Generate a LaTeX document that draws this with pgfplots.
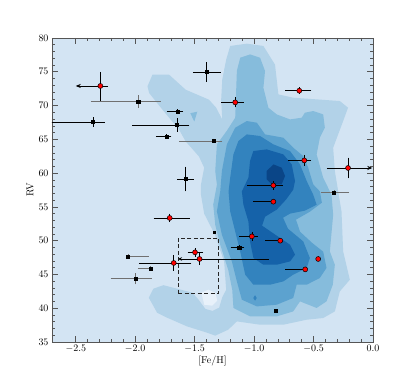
\documentclass[border=0pt]{standalone}
\usepackage{pgfplots}
\pgfplotsset{compat=1.18}
\usetikzlibrary{arrows.meta,calc}
\definecolor{bg}{HTML}{D3E4F3}
\definecolor{lvA}{HTML}{B2D2E8}
\definecolor{lvB}{HTML}{86BCDC}
\definecolor{lvC}{HTML}{5CA2CF}
\definecolor{lvD}{HTML}{3383BE}
\definecolor{lvE}{HTML}{1562A9}
\definecolor{lvF}{HTML}{0A4587}
\definecolor{hole}{HTML}{E8F1FA}
\definecolor{barg}{HTML}{707070}
\definecolor{spine}{HTML}{555555}

\begin{document}
\begin{tikzpicture}
\begin{axis}[name=ax, scale only axis, width=321bp, height=304bp,
  xmin=-2.7, xmax=0, ymin=35, ymax=80,
  axis background/.style={fill=bg},
  xtick={-2.5,-2,...,0}, minor x tick num=4,
  ytick={35,40,...,80}, minor y tick num=4,
  tick align=inside, major tick length=6bp, minor tick length=3bp,
  xticklabel style={/pgf/number format/.cd, fixed, fixed zerofill, precision=1},
  axis line style={spine, line width=0.9pt},
  tick style={spine, line width=0.6pt},
  xlabel={[Fe/H]}, ylabel={RV},
  xlabel style={yshift=4bp}, ylabel style={yshift=-2bp},
  error bars/error bar style={line width=0.6pt},
]
% density contours
\addplot[fill=lvA, draw=none] coordinates {
(-1.897,72.84) (-1.855,74.57) (-1.715,74.57) (-1.576,72.35) (-1.380,70.87) (-1.319,69.68) (-1.268,67.91) (-1.277,70.87) (-1.268,73.83) (-1.235,76.79) (-1.201,78.82) (-1.061,79.16) (-0.922,78.82) (-0.824,76.05) (-0.796,71.65) (-0.671,71.16) (-0.279,70.67) (-0.210,69.68) (-0.251,67.71) (-0.335,63.76) (-0.321,60.31) (-0.265,54.33) (-0.251,48.41) (-0.195,44.22) (-0.279,42.49) (-0.321,39.53) (-0.419,38.55) (-0.558,38.30) (-0.754,37.56) (-0.950,37.56) (-1.145,38.05) (-1.218,36.82) (-1.327,35.94) (-1.396,36.38) (-1.564,37.31) (-1.732,38.60) (-1.816,39.34) (-1.886,41.56) (-1.847,42.89) (-1.763,43.41) (-1.648,42.89) (-1.520,42.30) (-1.469,41.3) (-1.41,39.9) (-1.35,39.6) (-1.294,40.08) (-1.268,41.6) (-1.235,42.74) (-1.252,46.89) (-1.330,50.9) (-1.420,54.0) (-1.447,56.8) (-1.447,58.3) (-1.420,60.8) (-1.464,62.47) (-1.576,64.70) (-1.631,66.43) (-1.771,69.39) (-1.883,71.86)} -- cycle;
\addplot[fill=hole, draw=none] coordinates {(-1.444,42.30) (-1.386,42.74) (-1.327,42.30) (-1.310,41.11) (-1.352,40.37) (-1.419,40.52)} -- cycle;
\addplot[fill=lvB, draw=none] coordinates {(-1.537,68.87) (-1.478,69.09) (-1.503,67.64)} -- cycle;
\addplot[fill=lvB, draw=none] coordinates {
(-1.145,75.12) (-1.117,77.08) (-1.034,77.57) (-0.950,77.08) (-0.908,75.12) (-0.922,72.64) (-0.880,69.68) (-0.810,68.69) (-0.698,67.95) (-0.600,68.20) (-0.573,68.94) (-0.503,69.19) (-0.419,68.69) (-0.405,66.72) (-0.447,65.24) (-0.474,62.77) (-0.419,59.32) (-0.349,56.81) (-0.335,53.85) (-0.363,48.41) (-0.321,46.44) (-0.338,43.48) (-0.391,41.01) (-0.474,40.04) (-0.614,41.01) (-0.671,39.53) (-0.810,38.79) (-1.034,38.79) (-1.174,40.04) (-1.184,42.74) (-1.218,45.70) (-1.285,49.40) (-1.327,52.36) (-1.344,55.33) (-1.313,58.29) (-1.327,60.3) (-1.313,64.25) (-1.229,66.28) (-1.159,68.20)} -- cycle;
\addplot[fill=lvC, draw=none] coordinates {
(-1.061,67.71) (-0.977,67.46) (-0.908,65.73) (-0.754,65.24) (-0.671,63.76) (-0.587,62.53) (-0.545,60.80) (-0.503,58.33) (-0.447,57.29) (-0.430,55.62) (-0.531,54.29) (-0.648,53.11) (-0.614,51.33) (-0.514,49.70) (-0.419,48.37) (-0.391,45.96) (-0.447,44.48) (-0.558,43.48) (-0.642,43.48) (-0.671,41.52) (-0.810,40.52) (-0.977,40.27) (-1.103,41.26) (-1.145,43.97) (-1.187,46.93) (-1.271,50.88) (-1.313,54.33) (-1.285,57.29) (-1.271,60.31) (-1.229,64.25) (-1.159,66.72)} -- cycle;
\addplot[fill=lvD, draw=none] coordinates {(-1.007,41.51) (-0.992,41.93) (-0.978,41.51) (-0.992,41.11)} -- cycle;
\addplot[fill=lvD, draw=none] coordinates {
(-1.061,65.73) (-0.950,65.49) (-0.838,64.25) (-0.698,63.27) (-0.614,61.29) (-0.558,58.83) (-0.503,56.81) (-0.474,55.33) (-0.573,54.44) (-0.698,54.00) (-0.757,53.40) (-0.715,51.77) (-0.587,49.89) (-0.531,47.44) (-0.558,45.96) (-0.671,44.97) (-0.754,43.97) (-0.866,43.48) (-1.006,43.48) (-1.075,44.97) (-1.117,48.41) (-1.159,51.37) (-1.201,54.33) (-1.215,57.29) (-1.201,59.32) (-1.174,62.77) (-1.132,64.75)} -- cycle;
\addplot[fill=lvE, draw=none] coordinates {
(-1.006,63.27) (-0.894,63.51) (-0.754,62.77) (-0.684,61.29) (-0.656,58.83) (-0.671,57.55) (-0.732,56.07) (-0.810,54.59) (-0.908,53.55) (-0.933,52.22) (-0.810,50.74) (-0.698,49.40) (-0.656,47.92) (-0.698,46.93) (-0.810,46.44) (-0.922,46.44) (-1.006,47.44) (-1.034,49.89) (-1.048,52.85) (-1.090,55.33) (-1.103,57.29) (-1.048,59.32) (-1.034,61.79)} -- cycle;
\addplot[fill=lvF, draw=none] coordinates {(-0.894,60.31) (-0.838,61.29) (-0.768,60.80) (-0.740,59.57) (-0.768,58.33) (-0.852,58.33) (-0.894,59.07)} -- cycle;

% selection box
\addplot[black!85, dashed, line width=1pt, dash pattern=on 4bp off 2.5bp] coordinates {(-1.64,42.2) (-1.296,42.2) (-1.296,50.35) (-1.64,50.35)} -- cycle;

% limits drawn as arrows
\addplot[black, line width=0.6pt, -{Stealth[length=5bp,width=4bp]}] coordinates {(-2.293,72.9) (-2.50,72.9)};
\addplot[black, line width=0.6pt, -{Stealth[length=4bp,width=3.5bp]}] coordinates {(-1.459,47.29) (-1.64,47.29)};
\addplot[black, line width=0.6pt, -{Stealth[length=5bp,width=4bp]}] coordinates {(-0.21,60.76) (-0.006,60.76)};

% black squares, grey error bars
\addplot[only marks, mark=square*, mark size=1.6pt, black,
  error bars/.cd, x dir=both, y dir=both, x explicit, y explicit,
  error bar style={barg}, error mark options={barg, mark size=2.2pt, line width=0.6pt}]
  coordinates {
  (-1.975,70.62) += (0.17,0.6) -= (0.38,0.6)
  (-1.341,64.75) += (0.056,0) -= (0.27,0)
  (-0.329,57.15) += (0.11,0) -= (0.09,0)
  (-2.06,47.67) += (0.155,0) -= (0,0)
  (-1.87,45.9) += (0,0) -= (0.09,0)
  (-1.998,44.37) += (0.12,0.5) -= (0.19,0.5)};
% black squares, black error bars
\addplot[only marks, mark=square*, mark size=1.6pt, black,
  error bars/.cd, x dir=both, y dir=both, x explicit, y explicit,
  error bar style={black}, error mark options={black, mark size=2.2pt, line width=0.6pt}]
  coordinates {
  (-1.40,74.97) += (0.10,1.1) -= (0.097,1.1)
  (-1.645,69.14) += (0.03,0) -= (0.073,0)
  (-2.355,67.57) += (0.081,0.4) -= (0.5,0.4)
  (-1.648,67.12) += (0.084,0.7) -= (0.36,0.7)
  (-1.735,65.44) += (0.02,0) -= (0.072,0)
  (-1.578,59.13) += (0.05,1.5) -= (0.05,1.5)
  (-1.126,49.0) += (0.026,0) -= (0.054,0)};
\addplot[only marks, mark=square*, mark size=1.2pt, black] coordinates {(-1.338,51.23) (-0.818,39.64)};

% red circles
\addplot[only marks, mark=*, mark size=2.5pt, mark options={fill=red, draw=black, line width=0.5pt}, black,
  error bars/.cd, x dir=both, y dir=both, x explicit, y explicit,
  error bar style={black}, error mark options={black, mark size=2.2pt, line width=0.6pt}]
  coordinates {
  (-2.293,72.9) += (0.047,1.77) -= (0,1.9)
  (-1.159,70.47) += (0.053,0.4) -= (0.098,0.4)
  (-0.62,72.2) += (0.084,0.2) -= (0.10,0.2)
  (-0.578,61.88) += (0.04,0.5) -= (0.12,0.5)
  (-0.21,60.76) += (0,1.2) -= (0.16,1.2)
  (-0.838,58.18) += (0.06,0.3) -= (0.20,0.3)
  (-0.838,55.77) += (0,0) -= (0.15,0)
  (-1.71,53.36) += (0.15,0.3) -= (0.117,0.3)
  (-1.019,50.63) += (0.03,0.3) -= (0.087,0.3)
  (-0.78,50.0) += (0,0) -= (0.108,0)
  (-0.57,45.75) += (0,0) -= (0.15,0)
  (-1.497,48.27) += (0.05,0.3) -= (0.043,0.3)
  (-1.459,47.29) += (0.565,0.6) -= (0,0.6)
  (-1.676,46.70) += (0.13,0.8) -= (0.274,0.8)};
\addplot[only marks, mark=*, mark size=2.5pt, mark options={fill=red, draw=black, line width=0.5pt}] coordinates {(-0.461,47.29)};
\end{axis}
\pgfresetboundingbox
\useasboundingbox ($(ax.south west)+(-52bp,-38bp)$) rectangle ($(ax.north east)+(42bp,38bp)$);
\end{tikzpicture}
\end{document}
